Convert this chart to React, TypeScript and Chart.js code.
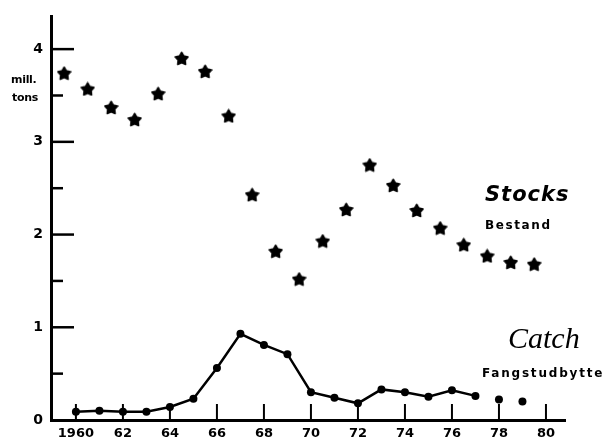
import React, { useEffect, useRef } from "react";
import { Chart, registerables } from "chart.js";

Chart.register(...registerables);

// ---- data ----
const catchYears = [1960, 1961, 1962, 1963, 1964, 1965, 1966, 1967, 1968, 1969, 1970, 1971, 1972, 1973, 1974, 1975, 1976, 1977, 1978, 1979];
const catchValues = [0.09, 0.1, 0.09, 0.09, 0.14, 0.23, 0.56, 0.93, 0.81, 0.71, 0.3, 0.24, 0.18, 0.33, 0.3, 0.25, 0.32, 0.26, 0.22, 0.2];
const catchLineEndYear = 1977;

const stockYears = [1959.5, 1960.5, 1961.5, 1962.5, 1963.5, 1964.5, 1965.5, 1966.5, 1967.5, 1968.5, 1969.5, 1970.5, 1971.5, 1972.5, 1973.5, 1974.5, 1975.5, 1976.5, 1977.5, 1978.5, 1979.5];
const stockValues = [3.74, 3.57, 3.37, 3.24, 3.52, 3.9, 3.76, 3.28, 2.43, 1.82, 1.52, 1.93, 2.27, 2.75, 2.53, 2.26, 2.07, 1.89, 1.77, 1.7, 1.68];

const xTickValues = [1960, 1962, 1964, 1966, 1968, 1970, 1972, 1974, 1976, 1978, 1980];
const xTickLabels = ["1960", "62", "64", "66", "68", "70", "72", "74", "76", "78", "80"];
const yTickValues = [0, 1, 2, 3, 4];
const yTickLabels = ["0", "1", "2", "3", "4"];
const yMinorTickValues = [0.5, 1.5, 2.5, 3.5];

const X_MIN = 1958.94;
const X_MAX = 1980.81;
const Y_MIN = 0;
const Y_MAX = 4.353;

function makeStar(size: number): HTMLCanvasElement {
  const c = document.createElement("canvas");
  c.width = size;
  c.height = size;
  const g = c.getContext("2d")!;
  const cx = size / 2;
  const cy = size / 2 + 0.6;
  const outer = size / 2 - 0.8;
  const inner = outer * 0.55;
  g.beginPath();
  for (let i = 0; i < 10; i++) {
    const r = i % 2 === 0 ? outer : inner;
    const a = -Math.PI / 2 + (i * Math.PI) / 5;
    const px = cx + r * Math.cos(a);
    const py = cy + r * Math.sin(a);
    if (i === 0) g.moveTo(px, py);
    else g.lineTo(px, py);
  }
  g.closePath();
  g.fillStyle = "#000";
  g.lineJoin = "round";
  g.strokeStyle = "#000";
  g.lineWidth = 1.6;
  g.fill();
  g.stroke();
  return c;
}

const FONT = '"DejaVu Sans", "Liberation Sans", sans-serif';

const decorPlugin = {
  id: "decor",
  afterDraw(chart: any) {
    const ctx = chart.ctx as CanvasRenderingContext2D;
    const xs = chart.scales.x;
    const ys = chart.scales.y;
    const left = chart.chartArea.left;
    const bottom = chart.chartArea.bottom;
    ctx.save();
    ctx.strokeStyle = "#000";
    ctx.lineCap = "butt";
    ctx.lineWidth = 2.5;
    // inward y ticks
    yTickValues.forEach((v) => {
      if (v === 0) return;
      const py = ys.getPixelForValue(v);
      ctx.beginPath();
      ctx.moveTo(left, py);
      ctx.lineTo(left + 23, py);
      ctx.stroke();
    });
    yMinorTickValues.forEach((v) => {
      const py = ys.getPixelForValue(v);
      ctx.beginPath();
      ctx.moveTo(left, py);
      ctx.lineTo(left + 12, py);
      ctx.stroke();
    });
    // inward x ticks
    ctx.lineWidth = 2;
    xTickValues.forEach((v) => {
      const px = xs.getPixelForValue(v);
      ctx.beginPath();
      ctx.moveTo(px, bottom);
      ctx.lineTo(px, bottom - 16);
      ctx.stroke();
    });

    // texts
    ctx.fillStyle = "#000";
    ctx.textBaseline = "middle";
    ctx.textAlign = "left";
    ctx.font = `bold 11px ${FONT}`;
    (ctx as any).letterSpacing = "-0.3px";
    ctx.fillText("mill.", 11, 80);
    ctx.fillText("tons", 12, 98);

    (ctx as any).letterSpacing = "1px";
    ctx.font = `italic bold 21px ${FONT}`;
    ctx.fillText("Stocks", 485, 196);

    ctx.font = `bold 12px ${FONT}`;
    (ctx as any).letterSpacing = "1.6px";
    ctx.fillText("Bestand", 485, 226);

    (ctx as any).letterSpacing = "0px";
    ctx.font = `italic 30px "Liberation Serif", serif`;
    ctx.fillText("Catch", 508, 340);

    ctx.font = `bold 12px ${FONT}`;
    (ctx as any).letterSpacing = "1.8px";
    ctx.fillText("Fangstudbytte", 482, 374);
    ctx.restore();
  },
};

export default function App() {
  const ref = useRef<HTMLCanvasElement | null>(null);

  useEffect(() => {
    if (!ref.current) return;
    const star = makeStar(15);
    const chart = new Chart(ref.current, {
      type: "scatter",
      data: {
        datasets: [
          {
            label: "Catch",
            data: catchYears.map((x, i) => ({ x, y: catchValues[i] })),
            showLine: true,
            borderColor: "#000",
            backgroundColor: "#000",
            borderWidth: 2.5,
            pointRadius: 4,
            pointBackgroundColor: "#000",
            pointBorderColor: "#000",
            pointBorderWidth: 0,
            clip: false,
            segment: {
              borderColor: (c: any) => (c.p0.parsed.x >= catchLineEndYear ? "rgba(0,0,0,0)" : "#000"),
            },
          } as any,
          {
            label: "Stocks",
            data: stockYears.map((x, i) => ({ x, y: stockValues[i] })),
            showLine: false,
            pointStyle: star,
            pointRadius: 7,
            clip: false,
          } as any,
        ],
      },
      options: {
        responsive: false,
        animation: false,
        devicePixelRatio: 1,
        layout: { padding: { top: 13, right: 45, bottom: 0, left: 0 } },
        plugins: {
          legend: { display: false },
          tooltip: { enabled: false },
        },
        scales: {
          x: {
            type: "linear",
            min: X_MIN,
            max: X_MAX,
            grid: { display: false, drawTicks: false },
            border: { display: true, color: "#000", width: 3 },
            afterBuildTicks: (s: any) => {
              s.ticks = xTickValues.map((v) => ({ value: v }));
            },
            afterFit: (s: any) => {
              s.height = 20;
            },
            ticks: {
              autoSkip: false,
              maxRotation: 0,
              padding: 6,
              color: "#000",
              font: { family: FONT, size: 13, weight: "bold" },
              callback: (_v: any, i: number) => xTickLabels[i],
            },
          },
          y: {
            type: "linear",
            min: Y_MIN,
            max: Y_MAX,
            grid: { display: false, drawTicks: false },
            border: { display: true, color: "#000", width: 3 },
            afterBuildTicks: (s: any) => {
              s.ticks = yTickValues.map((v) => ({ value: v }));
            },
            afterFit: (s: any) => {
              s.width = 51;
            },
            ticks: {
              padding: 8,
              color: "#000",
              font: { family: FONT, size: 14, weight: "bold" },
              callback: (_v: any, i: number) => yTickLabels[i],
            },
          },
        },
      } as any,
      plugins: [decorPlugin],
    });
    return () => chart.destroy();
  }, []);

  return (
    <div style={{ position: "absolute", left: 0, top: 0, width: 610, height: 440, background: "#fff" }}>
      <canvas ref={ref} width={610} height={440} style={{ display: "block" }} />
    </div>
  );
}
